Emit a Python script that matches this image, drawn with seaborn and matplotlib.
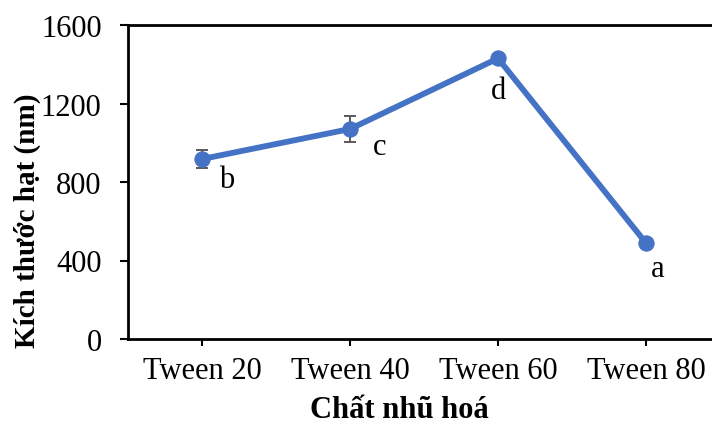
import matplotlib
matplotlib.use("Agg")
import matplotlib.pyplot as plt
import seaborn as sns
import pandas as pd

categories = ["Tween 20", "Tween 40", "Tween 60", "Tween 80"]
sizes = [917, 1070, 1430, 489]
errors = [47, 68, 15, 10]
letters = ["b", "c", "d", "a"]
letter_x = [0.165, 1.197, 2.0, 3.08]
letter_y = [815, 983, 1264, 357]
yticks = [0, 400, 800, 1200, 1600]

sns.set_theme(style="ticks")
plt.rcParams["font.family"] = ["Liberation Serif", "DejaVu Serif"]
plt.rcParams["axes.linewidth"] = 1.5

df = pd.DataFrame({"cat": categories, "size": sizes})

fig = plt.figure(figsize=(7.12, 4.27), dpi=100)
ax = fig.add_axes([128 / 712, 87 / 427, (720 - 128) / 712, (340 - 26) / 427])

color = "#4472C4"
ax.errorbar(categories, sizes, yerr=errors, fmt="none", ecolor="#595959",
            elinewidth=1.4, capsize=4.5, capthick=1.4, zorder=2)
sns.lineplot(data=df, x="cat", y="size", sort=False, color=color, linewidth=4.2,
             marker="o", markersize=11, markeredgecolor=color, ax=ax, zorder=3)

fs = 22
for lx, ly, t in zip(letter_x, letter_y, letters):
    ax.text(lx, ly, t, ha="center", va="center", fontsize=fs, color="black")

ax.set_xlim(-0.5, 3.5)
ax.set_ylim(0, 1600)
ax.set_yticks(yticks)
ax.set_yticklabels([str(v) for v in yticks])
ax.tick_params(axis="both", labelsize=fs, colors="black", direction="out",
               width=1.5)
ax.tick_params(axis="y", pad=13, length=6)
ax.tick_params(axis="x", pad=7, length=5)
for s in ax.spines.values():
    s.set_color("black")
    s.set_linewidth(2)

ax.set_xlabel("Chất nhũ hoá", fontsize=fs, fontweight="bold", color="black", va="center")
ax.xaxis.set_label_coords(0.458, -0.223)
ax.set_ylabel("Kích thước hạt (nm)", fontsize=21, fontweight="bold", color="black", va="center")
ax.yaxis.set_label_coords(-0.17, 0.379)

fig.savefig("out.png", dpi=100)
